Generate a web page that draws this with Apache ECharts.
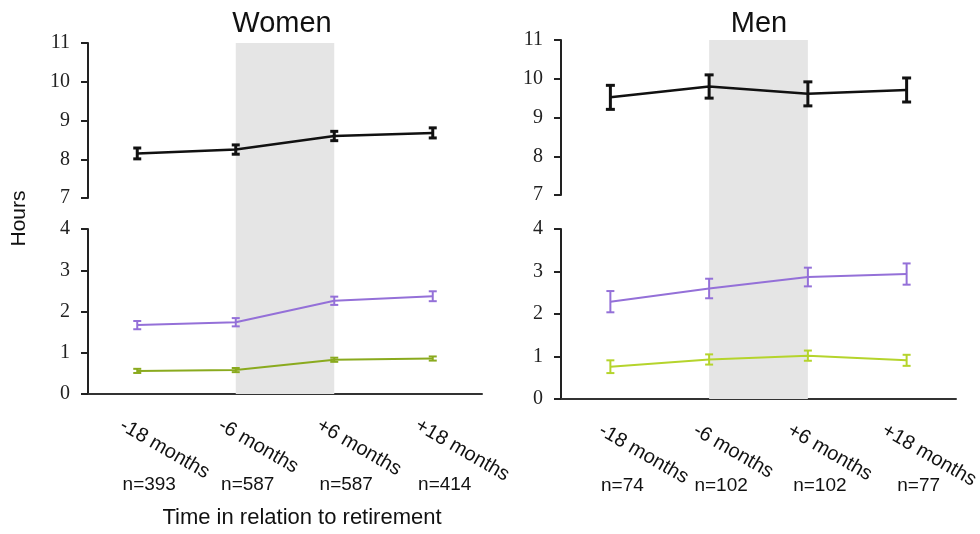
<!DOCTYPE html>
<html>
<head>
<meta charset="utf-8">
<script src="https://cdn.jsdelivr.net/npm/echarts@6/dist/echarts.min.js"></script>
<style>
  html, body { margin: 0; padding: 0; background: #fff; }
  #chart { width: 980px; height: 534px; }
</style>
</head>
<body>
<div id="chart"></div>
<script>
// categories and sample sizes
const months = ["-18 months", "-6 months", "+6 months", "+18 months"];
const womenN = ["n=393", "n=587", "n=587", "n=414"];
const menN = ["n=74", "n=102", "n=102", "n=77"];

// women (hours, mean and error)
const womenTop = [8.15, 8.25, 8.6, 8.68];
const womenTopErr = [0.14, 0.12, 0.12, 0.13];
const womenPurple = [1.67, 1.74, 2.26, 2.37];
const womenPurpleErr = [0.1, 0.1, 0.1, 0.12];
const womenGreen = [0.56, 0.58, 0.83, 0.86];
const womenGreenErr = [0.05, 0.05, 0.05, 0.05];

// men
const menTop = [9.52, 9.8, 9.61, 9.71];
const menTopErr = [0.31, 0.3, 0.31, 0.31];
const menPurple = [2.29, 2.6, 2.87, 2.94];
const menPurpleErr = [0.25, 0.23, 0.22, 0.25];
const menGreen = [0.76, 0.93, 1.02, 0.91];
const menGreenErr = [0.15, 0.12, 0.12, 0.13];

const upperTicks = [7, 11];
const lowerTicks = [0, 4];

const sans = "'Liberation Sans', Arial, sans-serif";
const serif = "'Liberation Serif', 'Times New Roman', serif";
const shade = "#e5e5e5";
const purple = "#9470d8";

let mychart = echarts.init(document.getElementById("chart"));

const errData = (vals, errs) => vals.map((v, i) => [i, v - errs[i], v + errs[i]]);

function errorBars(color, width, cap) {
  return function (params, api) {
    const lo = api.coord([api.value(0), api.value(1)]);
    const hi = api.coord([api.value(0), api.value(2)]);
    const st = () => ({ stroke: color, lineWidth: width });
    return {
      type: "group",
      children: [
        { type: "line", shape: { x1: lo[0], y1: lo[1], x2: hi[0], y2: hi[1] }, style: st() },
        { type: "line", shape: { x1: lo[0] - cap, y1: lo[1], x2: lo[0] + cap, y2: lo[1] }, style: st() },
        { type: "line", shape: { x1: hi[0] - cap, y1: hi[1], x2: hi[0] + cap, y2: hi[1] }, style: st() },
      ],
    };
  };
}

function valueAxis(grid, range) {
  return {
    type: "value",
    gridIndex: grid,
    min: range[0],
    max: range[1],
    interval: 1,
    axisLine: { show: true, lineStyle: { color: "#222", width: 2 } },
    axisTick: { show: true, length: 7, lineStyle: { color: "#222", width: 2 } },
    axisLabel: { fontFamily: serif, fontSize: 20, color: "#222", margin: 18 },
    splitLine: { show: false },
  };
}

function hiddenValue(grid, name) {
  return {
    type: "value",
    gridIndex: grid,
    min: 0,
    max: 1,
    axisLine: { show: false },
    axisTick: { show: false },
    axisLabel: { show: false },
    splitLine: { show: false },
    name: name || "",
    nameLocation: "middle",
    nameGap: 58,
    nameTextStyle: { fontFamily: sans, fontSize: 21, color: "#111" },
  };
}

function hiddenCat(grid) {
  return { type: "category", gridIndex: grid, data: months, show: false };
}

function nAxis(grid, nLabels, margin) {
  return {
    type: "category",
    gridIndex: grid,
    data: months,
    axisLine: { show: true, lineStyle: { color: "#333", width: 2 } },
    axisTick: { show: false },
    axisLabel: {
      fontFamily: sans,
      fontSize: 19,
      color: "#111",
      margin: margin,
      padding: [0, 0, 0, 24],
      formatter: (v, i) => nLabels[i],
    },
  };
}

function monthAxis(grid) {
  return {
    type: "category",
    gridIndex: grid,
    data: months,
    axisLine: { show: false },
    axisTick: { show: false },
    axisLabel: { fontFamily: sans, fontSize: 20, color: "#111", rotate: -30, margin: 30 },
  };
}

function panel(ofs, vals) {
  const [topV, topE, purV, purE, grnV, grnE, green, capTop] = vals;
  return [
    {
      type: "line", xAxisIndex: ofs + 2, yAxisIndex: ofs + 2, data: [], z: 0,
      markArea: { silent: true, itemStyle: { color: shade }, data: [[{ xAxis: months[1] }, { xAxis: months[2] }]] },
    },
    { type: "line", xAxisIndex: ofs, yAxisIndex: ofs, data: topV, symbol: "none", z: 3,
      lineStyle: { color: "#111", width: 2.5 } },
    { type: "custom", xAxisIndex: ofs, yAxisIndex: ofs, data: errData(topV, topE), z: 4,
      renderItem: errorBars("#111", 3, capTop), encode: { x: 0, y: [1, 2] } },
    { type: "line", xAxisIndex: ofs + 1, yAxisIndex: ofs + 1, data: purV, symbol: "none", z: 3,
      lineStyle: { color: purple, width: 2 } },
    { type: "custom", xAxisIndex: ofs + 1, yAxisIndex: ofs + 1, data: errData(purV, purE), z: 4,
      renderItem: errorBars(purple, 2, 4), encode: { x: 0, y: [1, 2] } },
    { type: "line", xAxisIndex: ofs + 1, yAxisIndex: ofs + 1, data: grnV, symbol: "none", z: 3,
      lineStyle: { color: green, width: 2 } },
    { type: "custom", xAxisIndex: ofs + 1, yAxisIndex: ofs + 1, data: errData(grnV, grnE), z: 4,
      renderItem: errorBars(green, 2, 4), encode: { x: 0, y: [1, 2] } },
  ];
}

const option = {
  animation: false,
  grid: [
    { left: 88, width: 394, top: 43, height: 155 },
    { left: 88, width: 394, top: 229, height: 165 },
    { left: 88, width: 394, top: 43, height: 351 },
    { left: 72, width: 394, top: 229, height: 165 },
    { left: 561, width: 395, top: 40, height: 155 },
    { left: 561, width: 395, top: 229, height: 170 },
    { left: 561, width: 395, top: 40, height: 359 },
    { left: 553, width: 395, top: 229, height: 170 },
  ],
  xAxis: [
    hiddenCat(0), nAxis(1, womenN, 81), hiddenCat(2), monthAxis(3),
    hiddenCat(4), nAxis(5, menN, 77), hiddenCat(6), monthAxis(7),
  ],
  yAxis: [
    valueAxis(0, upperTicks), valueAxis(1, lowerTicks), hiddenValue(2, "Hours"), hiddenValue(3),
    valueAxis(4, upperTicks), valueAxis(5, lowerTicks), hiddenValue(6), hiddenValue(7),
  ],
  graphic: [
    { type: "text", x: 282, y: 24, style: { text: "Women", font: "29px " + sans, fill: "#111", align: "center", verticalAlign: "middle" } },
    { type: "text", x: 759, y: 24, style: { text: "Men", font: "29px " + sans, fill: "#111", align: "center", verticalAlign: "middle" } },
    { type: "text", x: 302, y: 518, style: { text: "Time in relation to retirement", font: "22px " + sans, fill: "#111", align: "center", verticalAlign: "middle" } },
  ],
  series: [
    ...panel(0, [womenTop, womenTopErr, womenPurple, womenPurpleErr, womenGreen, womenGreenErr, "#8aaa1e", 4]),
    ...panel(4, [menTop, menTopErr, menPurple, menPurpleErr, menGreen, menGreenErr, "#b5d42c", 4.5]),
  ],
};

mychart.setOption(option);
</script>
</body>
</html>
